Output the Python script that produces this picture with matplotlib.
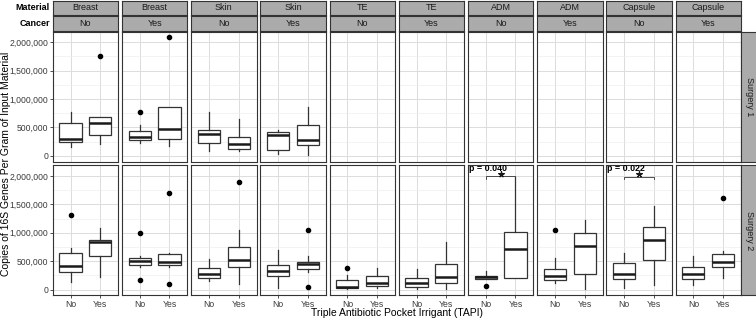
import matplotlib
matplotlib.use("Agg")
import matplotlib.pyplot as plt
from matplotlib.ticker import FuncFormatter, MultipleLocator

plt.rcParams['font.family'] = ['Liberation Sans', 'DejaVu Sans']

# facet layout
materials = ["Breast", "Breast", "Skin", "Skin", "TE", "TE", "ADM", "ADM", "Capsule", "Capsule"]
cancer = ["No", "Yes", "No", "Yes", "No", "Yes", "No", "Yes", "No", "Yes"]
surgeries = ["Surgery 1", "Surgery 2"]
tapi = ["No", "Yes"]

# box summaries [whislo, q1, median, q3, whishi] in millions of copies, None = no samples
s1_no = [[0.16, 0.24, 0.30, 0.58, 0.77], [0.22, 0.27, 0.335, 0.44, 0.535],
         [0.08, 0.23, 0.38, 0.46, 0.78], [0.03, 0.11, 0.36, 0.42, 0.46],
         None, None, None, None, None, None]
s1_yes = [[0.20, 0.36, 0.575, 0.68, 0.69], [0.18, 0.30, 0.465, 0.855, 0.86],
          [0.09, 0.12, 0.20, 0.33, 0.64], [0.02, 0.19, 0.28, 0.54, 0.865],
          None, None, None, None, None, None]
s1_no_out = [[], [0.765], [], [], [], [], [], [], [], []]
s1_yes_out = [[1.765], [2.09], [], [], [], [], [], [], [], []]

s2_no = [[0.125, 0.30, 0.42, 0.64, 0.73], [0.40, 0.44, 0.51, 0.55, 0.585],
         [0.148, 0.195, 0.266, 0.38, 0.54], [0.03, 0.23, 0.33, 0.44, 0.70],
         [0.01, 0.02, 0.047, 0.16, 0.26], [0.01, 0.053, 0.107, 0.207, 0.36],
         [0.185, 0.185, 0.213, 0.237, 0.33], [0.118, 0.16, 0.23, 0.355, 0.56],
         [0.02, 0.19, 0.27, 0.46, 0.65], [0.077, 0.177, 0.272, 0.40, 0.586]]
s2_yes = [[0.22, 0.586, 0.84, 0.88, 1.09], [0.39, 0.426, 0.485, 0.633, 0.64],
          [0.09, 0.39, 0.515, 0.75, 1.04], [0.31, 0.367, 0.444, 0.49, 0.585],
          [0.02, 0.06, 0.107, 0.23, 0.385], [0.01, 0.107, 0.22, 0.444, 0.83],
          [0.195, 0.20, 0.71, 1.018, 1.99], [0.018, 0.27, 0.77, 0.994, 1.22],
          [0.077, 0.515, 0.88, 1.10, 1.47], [0.195, 0.39, 0.48, 0.633, 0.675]]
s2_no_out = [[1.31], [0.99, 0.166], [], [], [0.385], [], [0.06], [1.05], [], []]
s2_yes_out = [[], [1.70, 0.095], [1.90], [1.05, 0.053], [], [], [], [], [], [1.615]]

# significance (Surgery 2 only)
sig_panels = [6, 8]
sig_labels = ["p = 0.040", "p = 0.022"]
sig_y = [2.0, 1.99]

W, H = 756, 319
fig = plt.figure(figsize=(W / 100, H / 100), dpi=100)


def box(x, y, w, h):
    # pixel box -> figure fraction
    return [x / W, 1 - (y + h) / H, w / W, h / H]


px0, pw, gap = 52.7, 65.4, 3.8
row_top = [31.5, 165.2]
row_h = 130.0
strip_col = '#ABABAB'
edge = '#333333'

rows = [(s1_no, s1_yes, s1_no_out, s1_yes_out), (s2_no, s2_yes, s2_no_out, s2_yes_out)]


def make_stats(s, out):
    return dict(whislo=s[0] * 1e6, q1=s[1] * 1e6, med=s[2] * 1e6,
                q3=s[3] * 1e6, whishi=s[4] * 1e6, fliers=[v * 1e6 for v in out])


for r in range(2):
    no, yes, no_out, yes_out = rows[r]
    for c in range(10):
        x = px0 + c * (pw + gap)
        ax = fig.add_axes(box(x, row_top[r], pw, row_h))

        stats, pos = [], []
        if no[c] is not None:
            stats.append(make_stats(no[c], no_out[c]))
            pos.append(1)
        if yes[c] is not None:
            stats.append(make_stats(yes[c], yes_out[c]))
            pos.append(2)
        if stats:
            ax.bxp(stats, positions=pos, widths=0.75, showcaps=False, patch_artist=True,
                   manage_ticks=False,
                   boxprops=dict(facecolor='white', edgecolor=edge, linewidth=0.9),
                   whiskerprops=dict(color=edge, linewidth=0.9),
                   medianprops=dict(color='#1A1A1A', linewidth=1.8),
                   flierprops=dict(marker='o', markerfacecolor='black', markeredgecolor='black',
                                   markersize=3))

        ax.set_xlim(0.4, 2.6)
        ax.set_ylim(-0.1e6, 2.19e6)
        ax.set_xticks([1, 2])
        ax.set_xticklabels(tapi)
        ax.yaxis.set_major_locator(MultipleLocator(500000))
        ax.yaxis.set_minor_locator(MultipleLocator(250000))
        ax.yaxis.set_major_formatter(FuncFormatter(lambda v, p: f"{v:,.0f}"))
        ax.set_axisbelow(True)
        ax.grid(which='major', color='#DCDCDC', lw=0.7)
        ax.grid(which='minor', axis='y', color='#ECECEC', lw=0.45)
        for sp in ax.spines.values():
            sp.set_color(edge)
            sp.set_linewidth(0.8)
        ax.tick_params(which='both', length=2.2, width=0.6, color='#333333',
                       labelsize=6.2, labelcolor='#3A3A3A', pad=1)
        ax.tick_params(which='minor', length=0)
        if c > 0:
            ax.tick_params(axis='y', left=False, labelleft=False)
        if r == 0:
            ax.tick_params(axis='x', bottom=False, labelbottom=False)

        if r == 1 and c in sig_panels:
            k = sig_panels.index(c)
            yb = sig_y[k] * 1e6
            ax.plot([1, 1, 2, 2], [yb - 0.05e6, yb, yb, yb - 0.05e6], color=edge, lw=0.6)
            ax.plot(1.5, yb + 0.04e6, marker=(5, 2, 0), color='#1A1A1A', markersize=4.5,
                    markeredgewidth=0.9)
            ax.text(0.44, 2.14e6, sig_labels[k], fontsize=6.4, fontweight='bold',
                    ha='left', va='center', color='black')

    # row strip on the right
    sax = fig.add_axes(box(741.3, row_top[r], 15.5, row_h))
    sax.set_facecolor(strip_col)
    sax.set_xticks([])
    sax.set_yticks([])
    for sp in sax.spines.values():
        sp.set_color(edge)
        sp.set_linewidth(0.8)
    sax.text(0.5, 0.5, surgeries[r], rotation=-90, ha='center', va='center',
             fontsize=6.5, color='#1A1A1A', transform=sax.transAxes)

# column strips: Material and Cancer
for c in range(10):
    x = px0 + c * (pw + gap)
    for lab, y0 in [(materials[c], 0.6), (cancer[c], 16.0)]:
        sax = fig.add_axes(box(x, y0, pw, 14.8))
        sax.set_facecolor(strip_col)
        sax.set_xticks([])
        sax.set_yticks([])
        for sp in sax.spines.values():
            sp.set_color(edge)
            sp.set_linewidth(0.8)
        sax.text(0.5, 0.5, lab, ha='center', va='center', fontsize=6.5,
                 color='#1A1A1A', transform=sax.transAxes)

fig.text(50 / W, 1 - 8 / H, "Material", ha='right', va='center', fontsize=6.5, fontweight='bold')
fig.text(50 / W, 1 - 23.4 / H, "Cancer", ha='right', va='center', fontsize=6.5, fontweight='bold')

fig.text(396.8 / W, 1 - 313.5 / H, "Triple Antibiotic Pocket Irrigant (TAPI)",
         ha='center', va='center', fontsize=7.5)
fig.text(6.5 / W, 1 - 163.6 / H, "Copies of 16S Genes Per Gram of Input Material",
         rotation=90, ha='center', va='center', fontsize=7.5)

fig.savefig("out.png", dpi=100)
